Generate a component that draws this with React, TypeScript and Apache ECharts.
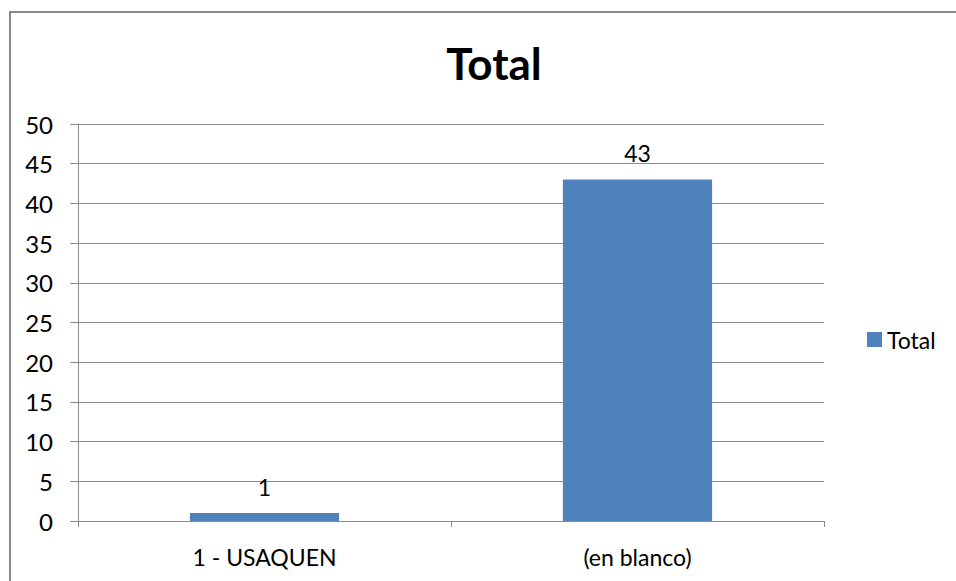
import React, { useEffect, useRef } from "react";
import * as echarts from "echarts";

const categories = ["1 - USAQUEN", "(en blanco)"];
const totals = [1, 43];
const seriesName = "Total";
const titleText = "Total";

const FONT = "Lato, 'Noto Sans', sans-serif";
const GRID = "#8c8c8c";

export default function App() {
  const ref = useRef<HTMLDivElement>(null);

  useEffect(() => {
    if (!ref.current) return;
    const chart = echarts.init(ref.current, undefined, { renderer: "svg" });
    chart.setOption({
      animation: false,
      backgroundColor: "#ffffff",
      textStyle: { fontFamily: FONT },
      title: {
        text: titleText,
        left: 489,
        textAlign: "center",
        top: 36,
        textStyle: { fontFamily: FONT, fontSize: 44, fontWeight: "bold", color: "#000" },
      },
      legend: {
        data: [seriesName],
        orient: "vertical",
        left: 862,
        top: 323,
        itemWidth: 15,
        itemHeight: 15,
        itemGap: 6,
        icon: "rect",
        textStyle: { fontFamily: FONT, fontSize: 23, color: "#000" },
      },
      grid: { left: 78, right: 132, top: 124, bottom: 60 },
      xAxis: {
        type: "category",
        data: categories,
        boundaryGap: true,
        axisLine: { show: true, lineStyle: { color: GRID, width: 1 } },
        axisTick: { show: true, alignWithLabel: false, length: 6, lineStyle: { color: GRID } },
        axisLabel: { fontFamily: FONT, fontSize: 23, color: "#000", margin: 24 },
        splitLine: { show: false },
      },
      yAxis: {
        type: "value",
        min: 0,
        max: 50,
        interval: 5,
        axisLine: { show: true, lineStyle: { color: GRID, width: 1 } },
        axisTick: { show: true, length: 8, lineStyle: { color: GRID } },
        axisLabel: { fontFamily: FONT, fontSize: 24, color: "#000", margin: 25 },
        splitLine: { show: true, lineStyle: { color: GRID, width: 1 } },
      },
      series: [
        {
          name: seriesName,
          type: "bar",
          data: totals,
          barWidth: "40%",
          itemStyle: { color: "#4F81BD" },
          label: {
            show: true,
            position: "top",
            distance: 15,
            fontFamily: FONT,
            fontSize: 23,
            color: "#000",
          },
        },
      ],
      graphic: [
        {
          type: "rect",
          shape: { x: 10, y: 12, width: 980, height: 640 },
          style: { fill: "none", stroke: "#888888", lineWidth: 2 },
          silent: true,
          z: 100,
        },
      ],
    });
    return () => chart.dispose();
  }, []);

  return (
    <div
      ref={ref}
      style={{ position: "fixed", left: 0, top: 0, width: 956, height: 581 }}
    />
  );
}
